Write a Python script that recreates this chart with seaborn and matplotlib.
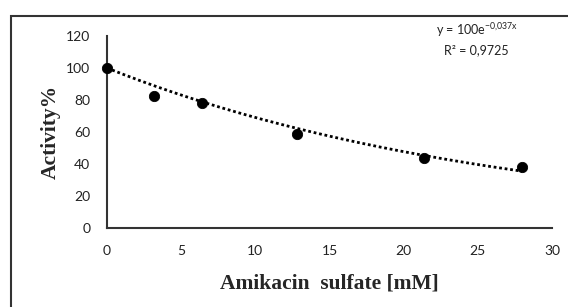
import numpy as np
import pandas as pd
import matplotlib
matplotlib.use("Agg")
import matplotlib.pyplot as plt
from matplotlib.patches import Rectangle
import seaborn as sns

# Data
concentration_mM = [0, 3.2, 6.4, 12.8, 21.4, 28.0]
activity_pct = [100, 82.5, 78, 58.5, 44, 38]

# Exponential trendline coefficients (as printed on the chart)
trend_a = 100
trend_b = -0.037
x_ticks = [0, 5, 10, 15, 20, 25, 30]
y_ticks = [0, 20, 40, 60, 80, 100, 120]

sns.set_theme(style="white")
plt.rcParams['font.family'] = ['Lato', 'DejaVu Sans']

fig = plt.figure(figsize=(5.68, 3.07), dpi=100)
ax = fig.add_axes([107/568, 1-228/307, (552-107)/568, (228-36)/307])

df = pd.DataFrame({"x": concentration_mM, "y": activity_pct})
xs = np.linspace(min(concentration_mM), max(concentration_mM), 200)
trend = pd.DataFrame({"x": xs, "y": trend_a*np.exp(trend_b*xs)})

sns.lineplot(data=trend, x="x", y="y", ax=ax, color="black", linestyle=(0, (1, 1)), linewidth=2.0)
sns.scatterplot(data=df, x="x", y="y", ax=ax, color="black", s=55, edgecolor="black", zorder=5, clip_on=False)

ax.set_xlim(0, 30)
ax.set_ylim(0, 120)
ax.set_xticks(x_ticks)
ax.set_yticks(y_ticks)
ax.tick_params(axis='both', length=0, labelsize=10, colors='#222222')
ax.tick_params(axis='y', pad=12)
ax.tick_params(axis='x', pad=12)
for s in ['top', 'right']:
    ax.spines[s].set_visible(False)
for s in ['left', 'bottom']:
    ax.spines[s].set_color('#333333')
    ax.spines[s].set_linewidth(1.5)

ax.set_xlabel("Amikacin  sulfate [mM]", family=['Liberation Serif'], fontweight='bold', fontsize=15.5, labelpad=12)
ax.set_ylabel("Activity%", family=['Liberation Serif'], fontweight='bold', fontsize=15.5, labelpad=4)

ax.text(0.831, 1.031, "y = 100e$\\mathregular{^{-0{,}037x}}$", transform=ax.transAxes, ha='center', va='center', fontsize=9, color='#222222')
ax.text(0.831, 0.927, "R² = 0,9725", transform=ax.transAxes, ha='center', va='center', fontsize=9, color='#222222')

fig.patches.append(Rectangle((11/568, -0.1), 1.2, 1-16/307+0.1, transform=fig.transFigure,
                             fill=False, edgecolor='#333333', linewidth=1.5))

fig.savefig("out.png", dpi=100)
